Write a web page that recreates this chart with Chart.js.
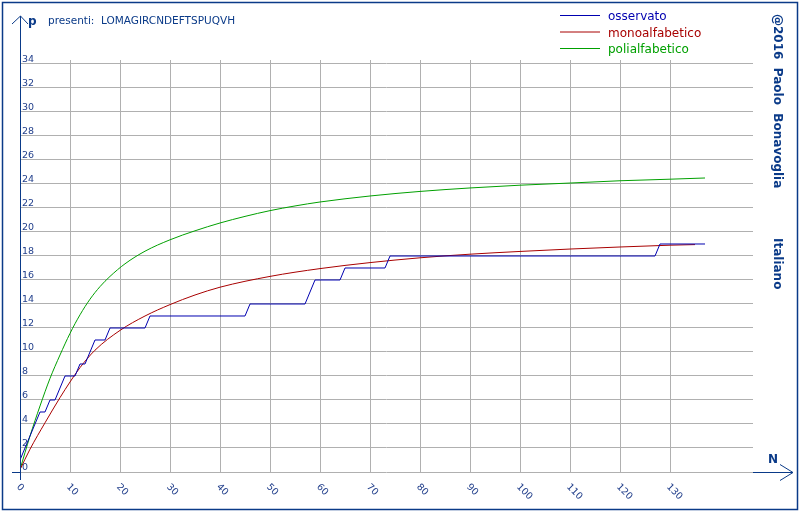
<!DOCTYPE html>
<html>
<head>
<meta charset="utf-8">
<script src="https://cdn.jsdelivr.net/npm/chart.js@4.4.1/dist/chart.umd.min.js"></script>
<style>
  html, body { margin: 0; padding: 0; background: #fff; }
  canvas { display: block; }
</style>
</head>
<body>
<canvas id="chart" width="800" height="512"></canvas>
<script>
// observed: distinct letters seen after N letters (corners of the step line)
const obsN = [0, 4, 5, 6, 7, 9, 11, 12, 13, 15, 17, 18, 25, 26, 45, 46, 57, 59, 64, 65, 73, 74, 127, 128, 137];
const obsP = [1, 5, 5, 6, 6, 8, 8, 9, 9, 11, 11, 12, 12, 13, 13, 14, 14, 16, 16, 17, 17, 18, 18, 19, 19];

// expected for a monoalphabetic cipher
const monoN = [0, 2, 5, 8, 10, 12, 15, 20, 25, 30, 35, 40, 50, 60, 70, 80, 90, 100, 110, 120, 130, 135];
const monoP = [0.2, 1.9, 4.1, 6.2, 7.5, 8.7, 10.15, 11.8, 13.0, 13.95, 14.75, 15.4, 16.3, 16.95, 17.45, 17.85, 18.15, 18.38, 18.58, 18.75, 18.9, 18.95];

// expected for a polyalphabetic cipher
const poliN = [0, 2, 4, 6, 8, 10, 12, 14, 16, 18, 21, 25, 30, 35, 40, 45, 50, 55, 60, 70, 80, 90, 100, 110, 120, 130, 137];
const poliP = [0.2, 3.0, 5.5, 7.8, 9.75, 11.55, 13.1, 14.4, 15.45, 16.3, 17.35, 18.4, 19.35, 20.1, 20.75, 21.3, 21.78, 22.17, 22.5, 23.0, 23.38, 23.67, 23.9, 24.08, 24.27, 24.4, 24.5];

const seriesNames = ['osservato', 'monoalfabetico', 'polialfabetico'];
const seriesColors = ['#0000b0', '#a80000', '#00a000'];

const presentText = 'presenti:  LOMAGIRCNDEFTSPUQVH';
const authorText = '@2016  Paolo  Bonavoglia';
const langText = 'Italiano';
const yAxisName = 'p';
const xAxisName = 'N';

const navy = '#0a3a88';
const labelColor = '#23408c';
const gridColor = '#b0b0b0';
const fontFamily = "'DejaVu Sans', Verdana, sans-serif";

function toPoints(xs, ys) {
  return xs.map((x, i) => ({ x: x, y: ys[i] }));
}

const decorPlugin = {
  id: 'decor',
  afterDraw(chart) {
    const ctx = chart.ctx;
    const xScale = chart.scales.x;
    const yScale = chart.scales.y;
    const area = chart.chartArea;
    const x0 = Math.round(xScale.getPixelForValue(0)) + 0.5;
    const y0 = Math.round(yScale.getPixelForValue(0)) + 0.5;

    ctx.save();

    // frame
    ctx.strokeStyle = navy;
    ctx.lineWidth = 1.5;
    ctx.strokeRect(2.5, 2.5, 795, 507);

    // axes and arrows
    ctx.lineWidth = 1;
    ctx.beginPath();
    ctx.moveTo(x0, 16);
    ctx.lineTo(x0, 480);
    ctx.moveTo(12, 24);
    ctx.lineTo(x0, 16);
    ctx.lineTo(28, 24);
    ctx.moveTo(12, y0);
    ctx.lineTo(x0, y0);
    ctx.moveTo(area.right, y0);
    ctx.lineTo(793, y0);
    ctx.moveTo(780, y0 - 8);
    ctx.lineTo(793, y0);
    ctx.lineTo(780, y0 + 8);
    ctx.stroke();

    ctx.fillStyle = navy;
    ctx.font = 'bold 12px ' + fontFamily;
    ctx.textAlign = 'left';
    ctx.textBaseline = 'alphabetic';
    ctx.fillText(yAxisName, 28, 25);
    ctx.fillText(xAxisName, 768, 463);

    ctx.font = '10.5px ' + fontFamily;
    ctx.fillText(presentText, 48, 24);

    // x tick labels, slanted
    ctx.fillStyle = labelColor;
    ctx.font = '9.5px ' + fontFamily;
    ctx.textBaseline = 'middle';
    xScale.ticks.forEach(t => {
      const px = xScale.getPixelForValue(t.value);
      ctx.save();
      ctx.translate(px - 2, 485.5);
      ctx.rotate(Math.PI / 4);
      ctx.fillText(String(t.value), 0, 0);
      ctx.restore();
    });

    // legend
    const legendY = [15.5, 32, 48.5];
    ctx.font = '12px ' + fontFamily;
    ctx.textBaseline = 'alphabetic';
    chart.data.datasets.forEach((ds, i) => {
      ctx.strokeStyle = ds.borderColor;
      ctx.beginPath();
      ctx.moveTo(560, legendY[i]);
      ctx.lineTo(600, legendY[i]);
      ctx.stroke();
      ctx.fillStyle = ds.borderColor;
      ctx.fillText(ds.label, 608, legendY[i] + 4.5);
    });

    // vertical side texts
    ctx.fillStyle = navy;
    ctx.font = 'bold 12px ' + fontFamily;
    ctx.save();
    ctx.translate(774, 14);
    ctx.rotate(Math.PI / 2);
    ctx.fillText(authorText, 0, 0);
    ctx.restore();
    ctx.save();
    ctx.translate(774, 238);
    ctx.rotate(Math.PI / 2);
    ctx.fillText(langText, 0, 0);
    ctx.restore();

    ctx.restore();
  }
};

new Chart(document.getElementById('chart'), {
  type: 'line',
  data: {
    datasets: [
      {
        label: seriesNames[0],
        data: toPoints(obsN, obsP),
        borderColor: seriesColors[0],
        borderWidth: 1,
        pointRadius: 0,
        tension: 0
      },
      {
        label: seriesNames[1],
        data: toPoints(monoN, monoP),
        borderColor: seriesColors[1],
        borderWidth: 1,
        pointRadius: 0,
        cubicInterpolationMode: 'monotone'
      },
      {
        label: seriesNames[2],
        data: toPoints(poliN, poliP),
        borderColor: seriesColors[2],
        borderWidth: 1,
        pointRadius: 0,
        cubicInterpolationMode: 'monotone'
      }
    ]
  },
  options: {
    responsive: false,
    animation: false,
    layout: {
      padding: { left: 20, top: 60, right: 47, bottom: 40 }
    },
    scales: {
      x: {
        type: 'linear',
        min: 0,
        max: 146.6,
        border: { display: false },
        grid: { color: gridColor, drawTicks: false },
        ticks: { display: false, stepSize: 10, includeBounds: false },
        afterBuildTicks(scale) {
          scale.ticks = scale.ticks.filter(t => t.value <= 130);
        },
        afterFit(scale) {
          scale.height = 0;
        }
      },
      y: {
        type: 'linear',
        min: 0,
        max: 34.333,
        border: { display: false },
        grid: { color: gridColor, drawTicks: false },
        ticks: {
          stepSize: 2,
          includeBounds: false,
          mirror: true,
          padding: 2,
          labelOffset: -4,
          color: labelColor,
          font: { family: fontFamily, size: 9.5 }
        },
        afterFit(scale) {
          scale.width = 0;
        }
      }
    },
    plugins: {
      legend: { display: false },
      title: { display: false },
      tooltip: { enabled: false }
    }
  },
  plugins: [decorPlugin]
});
</script>
</body>
</html>
